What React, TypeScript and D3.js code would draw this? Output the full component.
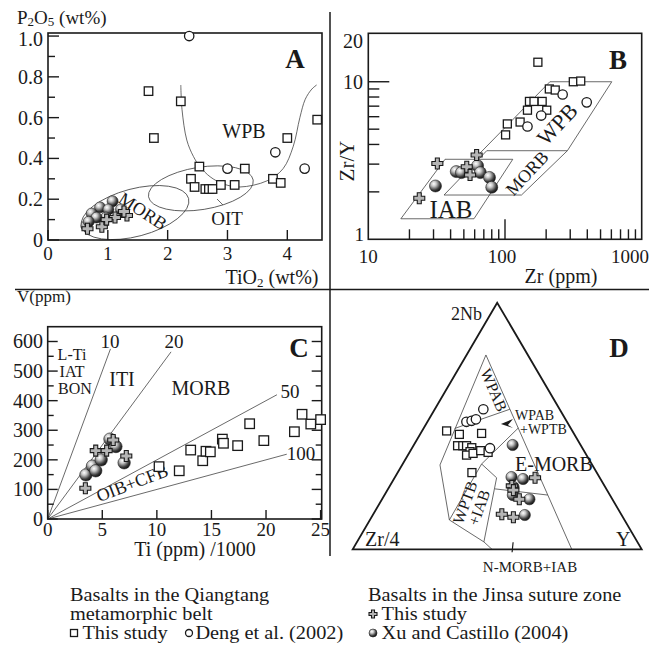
import React from 'react'
import * as d3 from 'd3'

type P = [number, number]
type T = [number, number, number]

// ---------- panel A : TiO2 vs P2O5 (wt%)
const aQiangtang: P[] = [[1.68, 0.73], [2.22, 0.68], [1.77, 0.5], [2.53, 0.36], [3.29, 0.35], [2.39, 0.3], [2.45, 0.26], [2.63, 0.25], [2.69, 0.25], [2.75, 0.25], [2.89, 0.27], [3.12, 0.27], [3.76, 0.3], [3.89, 0.28], [4.0, 0.5], [4.5, 0.59]]
const aDeng: P[] = [[2.36, 1.0], [3.0, 0.35], [3.8, 0.43], [4.29, 0.35]]
const aXuCastillo: P[] = [[1.08, 0.19], [0.87, 0.16], [1.01, 0.15], [0.73, 0.13], [1.22, 0.15], [0.97, 0.11], [0.64, 0.07], [0.81, 0.11], [0.68, 0.09]]
const aJinsa: P[] = [[1.32, 0.12], [1.12, 0.11], [0.9, 0.065], [0.66, 0.055], [1.27, 0.14], [0.98, 0.1]]
const aWpbLine: P[] = [[2.22, 0.76], [2.24, 0.64], [2.32, 0.49], [2.43, 0.41], [2.54, 0.36], [2.71, 0.31], [2.93, 0.275], [3.21, 0.26], [3.66, 0.29], [3.93, 0.35], [4.1, 0.46], [4.21, 0.6], [4.3, 0.69], [4.41, 0.74], [4.49, 0.76]]
const aMorbAxis: P[] = [[0.56, 0.065], [2.35, 0.204]]
const aOitAxis: P[] = [[1.68, 0.212], [3.43, 0.294]]
const aYTicks = [0, 0.2, 0.4, 0.6, 0.8, 1.0]
const aYLabels = ['0', '0.2', '0.4', '0.6', '0.8', '1.0']
const aYMinor = [0.1, 0.3, 0.5, 0.7, 0.9]
const aXTicks = [0, 1, 2, 3, 4]

// ---------- panel B : Zr vs Zr/Y
const bQiangtang: P[] = [[174, 13.3], [316, 10], [358, 10.1], [211, 9.0], [233, 8.86], [151, 7.5], [163, 7.5], [187, 7.5], [146, 6.6], [202, 6.6], [104, 5.4], [129, 5.55], [101, 4.6]]
const bDeng: P[] = [[264, 8.3], [396, 7.4], [184, 6.1], [146, 5.2]]
const bXuCastillo: P[] = [[31, 2.18], [44, 2.69], [48, 2.65], [63, 2.93], [66, 2.65], [77, 2.47], [80, 2.14]]
const bJinsa: P[] = [[32, 3.03], [62, 3.43], [23.6, 1.82], [52.5, 2.89], [55.5, 2.56]]
const bIab: P[] = [[17.3, 1.35], [59.3, 1.35], [114, 3.22], [36.4, 3.22]]
const bMorb: P[] = [[35.8, 1.91], [132, 1.91], [286, 3.65], [73.5, 3.65]]
const bWpb: P[] = [[59.3, 3.22], [213, 10], [604, 10], [286, 3.65]]
const bYMinor = [2, 3, 4, 5, 6, 7, 8, 9]
const bXMinor = [20, 30, 40, 50, 60, 70, 80, 90, 200, 300, 400, 500, 600, 700, 800, 900]

// ---------- panel C : Ti/1000 vs V
const cQiangtang: P[] = [[10.2, 177], [12.05, 163], [13.1, 233], [14.2, 197], [14.5, 229], [14.9, 227], [16.0, 270], [16.1, 256], [17.4, 248], [18.5, 322], [19.8, 265], [22.6, 295], [23.3, 354], [24.1, 321], [25.0, 336]]
const cXuCastillo: P[] = [[3.5, 149], [4.1, 179], [4.4, 163], [4.9, 200], [5.7, 270], [6.25, 245], [7.0, 190]]
const cJinsa: P[] = [[3.45, 104], [4.4, 231], [5.4, 231], [6.0, 267], [7.2, 213]]
const cRatios = [10, 20, 50, 100]
const cRatioEnds = [5.75, 11.3, 21.0, 21.9]
const cYTicks = [0, 100, 200, 300, 400, 500, 600]
const cYMinor = [50, 150, 250, 350, 450, 550]
const cXTicks = [0, 5, 10, 15, 20, 25]

// ---------- panel D : 2Nb - Zr/4 - Y (percent)
const dQiangtang: T[] = [[48, 43.5, 8.5], [46.6, 39.8, 13.6], [47, 31.9, 21.1], [42, 42.7, 15.3], [42, 40.9, 17.1], [42, 39.6, 18.4], [41.2, 38.2, 20.6], [39.6, 39.6, 20.8], [38.2, 41.5, 20.3], [38.9, 38.9, 22.2], [40, 35.7, 24.3], [39.3, 33.5, 27.2], [31.1, 43.2, 25.7]]
const dDeng: T[] = [[56.8, 26.4, 16.8], [51.7, 34.8, 13.5], [52.1, 32.8, 15.1], [52.7, 31.0, 16.3], [41, 32, 27]]
const dXuCastillo: T[] = [[42.3, 23.5, 34.2], [29.3, 30.4, 40.3], [28.5, 26.8, 44.7], [25.3, 31.7, 43], [22, 33.6, 44.4], [20.3, 28.7, 51], [13.9, 33.5, 52.6]]
const dJinsa: T[] = [[29, 22.4, 48.6], [25.7, 32.1, 42.2], [24, 32.4, 43.6], [20.3, 32.2, 47.5], [14.2, 41.3, 44.5], [13, 37.9, 49.1]]
const dOuter: T[] = [[78.8, 14.5, 6.7], [34.2, 52.7, 13.1], [11.9, 60.6, 27.5], [3, 53.1, 43.9], [0, 51.8, 48.2]]
const dRight: T[] = [[78.8, 14.5, 6.7], [0, 24.2, 75.8]]
const dWpabLow: T[] = [[49.5, 40.6, 10.9], [56.8, 17.2, 26]]
const dEmorbTop: T[] = [[34.6, 38.1, 27.3], [49.2, 18.1, 32.7]]
const dWptb: T[] = [[11.9, 60.6, 27.5], [34.6, 38.1, 27.3], [29, 35.7, 35.3], [3, 53.1, 43.9]]
const dEmorbLow: T[] = [[24.5, 38.5, 37], [22, 21.5, 56.5]]
const dArrowTip: T = [50.8, 23.3, 25.9]
const dBaseTick: T = [0, 44.5, 55.5]

const FONT = "'Liberation Serif', 'Times New Roman', serif"
const INK = '#1a1a1a'

// scales
const xA = d3.scaleLinear().domain([0, 4.58]).range([48, 322])
const yA = d3.scaleLinear().domain([0, 1.015]).range([240, 33])
const xB = d3.scaleLog().domain([10, 1000]).range([368.3, 641.7])
const yB = d3.scaleLog().domain([1, 20.3]).range([239.3, 33.3])
const xC = d3.scaleLinear().domain([0, 25.1]).range([47.7, 321.7])
const yC = d3.scaleLinear().domain([0, 650]).range([519, 326.7])
const tx = d3.scaleLinear().domain([0, 1]).range([352.7, 641.7])
const ty = d3.scaleLinear().domain([0, 1]).range([549.3, 302.7])

const tern = (p: T): P => {
	const s = p[0] + p[1] + p[2]
	const a = p[0] / s
	const c = p[2] / s
	return [tx(c + a / 2), ty(a)]
}

const Square = ({ x, y, s = 9 }: any) => (
	<rect x={x - s / 2} y={y - s / 2} width={s} height={s} fill='white' stroke={INK} strokeWidth={1.3} />
)
const Ring = ({ x, y, r = 4.7 }: any) => <circle cx={x} cy={y} r={r} fill='white' stroke={INK} strokeWidth={1.3} />
const Ball = ({ x, y, r = 5.8 }: any) => (
	<circle cx={x} cy={y} r={r} fill='url(#ball)' stroke='#222' strokeWidth={0.6} />
)
const Cross = ({ x, y, h = 5.5, w = 2 }: any) => {
	const d = `M${x - w},${y - h}H${x + w}V${y - w}H${x + h}V${y + w}H${x + w}V${y + h}H${x - w}V${y + w}H${x - h}V${y - w}H${x - w}Z`
	return <path d={d} fill='#b5b5b5' stroke={INK} strokeWidth={1.1} />
}

const Ellipse = ({ ends, ratio }: { ends: P[]; ratio: number }) => {
	const p0 = [xA(ends[0][0]), yA(ends[0][1])]
	const p1 = [xA(ends[1][0]), yA(ends[1][1])]
	const cx = (p0[0] + p1[0]) / 2
	const cy = (p0[1] + p1[1]) / 2
	const rx = Math.hypot(p1[0] - p0[0], p1[1] - p0[1]) / 2
	const ang = (Math.atan2(p1[1] - p0[1], p1[0] - p0[0]) * 180) / Math.PI
	return (
		<ellipse cx={cx} cy={cy} rx={rx} ry={rx * ratio} transform={`rotate(${ang} ${cx} ${cy})`}
			fill='none' stroke='#444' strokeWidth={0.8} />
	)
}

const App = () => {
	const wpbPath = d3.line<P>().x(d => xA(d[0])).y(d => yA(d[1])).curve(d3.curveCatmullRom)(aWpbLine) || ''
	const polyB = (pts: P[], closed: boolean) =>
		d3.line<P>().x(d => xB(d[0])).y(d => yB(d[1]))(pts) + (closed ? 'Z' : '')
	const polyD = (pts: T[]) => d3.line<P>()(pts.map(tern)) || ''
	const tri = [tern([100, 0, 0]), tern([0, 100, 0]), tern([0, 0, 100])]
	const arrow = tern(dArrowTip)
	const baseTick = tern(dBaseTick)
	const field = { fill: 'none', stroke: '#444', strokeWidth: 0.8 }
	const frame = { fill: 'none', stroke: INK, strokeWidth: 1.6 }
	const tick = { stroke: INK, strokeWidth: 1.4 }

	return (
		<svg width={662} height={649} style={{ position: 'absolute', left: 0, top: 0, background: 'white' }}
			fontFamily={FONT} fill={INK}>
			<defs>
				<radialGradient id='ball' cx='0.36' cy='0.32' r='0.7'>
					<stop offset='0' stopColor='#ffffff' />
					<stop offset='0.3' stopColor='#c8c8c8' />
					<stop offset='0.75' stopColor='#3c3c3c' />
					<stop offset='1' stopColor='#111' />
				</radialGradient>
			</defs>

			{/* separators */}
			<line x1={330} x2={330} y1={12} y2={556} stroke={INK} strokeWidth={1.5} />
			<line x1={15} x2={649} y1={289.5} y2={289.5} stroke={INK} strokeWidth={1.5} />

			{/* ================= A ================= */}
			<g>
				<Ellipse ends={aMorbAxis} ratio={0.43} />
				<Ellipse ends={aOitAxis} ratio={0.4} />
				<path d={wpbPath} {...field} />
				<line x1={217} y1={199} x2={223} y2={205} stroke='#444' strokeWidth={0.8} />
				<rect x={xA(0)} y={yA(1.015)} width={xA(4.58) - xA(0)} height={yA(0) - yA(1.015)} {...frame} />
				{aYTicks.map(v => <line key={'ay' + v} x1={xA(0)} x2={xA(0) + 11} y1={yA(v)} y2={yA(v)} {...tick} />)}
				{aYMinor.map(v => <line key={'aym' + v} x1={xA(0)} x2={xA(0) + 7} y1={yA(v)} y2={yA(v)} {...tick} />)}
				{aXTicks.map(v => <line key={'ax' + v} x1={xA(v)} x2={xA(v)} y1={yA(0)} y2={yA(0) - 10} {...tick} />)}
				{aYTicks.map((v, i) => (
					<text key={'ayl' + v} x={43} y={yA(v) + (v === 1 ? 3 : 0)} dy='0.35em' textAnchor='end' fontSize={20}>{aYLabels[i]}</text>
				))}
				{aXTicks.map(v => (
					<text key={'axl' + v} x={xA(v)} y={260} textAnchor='middle' fontSize={19}>{v}</text>
				))}
				<text x={17} y={24} fontSize={19}>
					P<tspan fontSize={13} dy={2}>2</tspan><tspan dy={-2}>O</tspan><tspan fontSize={13} dy={2}>5</tspan><tspan dy={-2}> (wt%)</tspan>
				</text>
				<text x={272} y={284} textAnchor='middle' fontSize={20}>
					TiO<tspan fontSize={13} dy={3}>2</tspan><tspan dy={-3}> (wt%)</tspan>
				</text>
				<text x={295} y={68} textAnchor='middle' fontSize={27} fontWeight='bold'>A</text>
				<text x={244} y={138} textAnchor='middle' fontSize={20}>WPB</text>
				<text x={227} y={225} textAnchor='middle' fontSize={19}>OIT</text>
				<text transform={`translate(143,211) rotate(33)`} textAnchor='middle' dy='0.35em' fontSize={18}>MORB</text>
				{aQiangtang.map((d, i) => <Square key={'aq' + i} x={xA(d[0])} y={yA(d[1])} s={8.5} />)}
				{aDeng.map((d, i) => <Ring key={'ad' + i} x={xA(d[0])} y={yA(d[1])} />)}
				{aXuCastillo.map((d, i) => <Ball key={'ax' + i} x={xA(d[0])} y={yA(d[1])} r={5.5} />)}
				{aJinsa.map((d, i) => <Cross key={'aj' + i} x={xA(d[0])} y={yA(d[1])} />)}
			</g>

			{/* ================= B ================= */}
			<g>
				<path d={polyB(bIab, true)} {...field} />
				<path d={polyB(bMorb, true)} {...field} />
				<path d={polyB(bWpb, false)} {...field} />
				<rect x={xB(10)} y={yB(20.3)} width={xB(1000) - xB(10)} height={yB(1) - yB(20.3)} {...frame} />
				{bYMinor.map(v => <line key={'by' + v} x1={xB(10)} x2={xB(10) + 11} y1={yB(v)} y2={yB(v)} {...tick} />)}
				<line x1={xB(10)} x2={xB(10) + 21} y1={yB(10)} y2={yB(10)} {...tick} />
				{bXMinor.map(v => <line key={'bx' + v} x1={xB(v)} x2={xB(v)} y1={yB(1)} y2={yB(1) - 10} {...tick} />)}
				<line x1={xB(100)} x2={xB(100)} y1={yB(1)} y2={yB(1) - 20} {...tick} />
				<text x={363} y={yB(20) + 7} dy='0.35em' textAnchor='end' fontSize={20}>20</text>
				<text x={363} y={yB(10)} dy='0.35em' textAnchor='end' fontSize={20}>10</text>
				<text x={364} y={yB(1) - 5} dy='0.35em' textAnchor='end' fontSize={19}>1</text>
				<text x={xB(10)} y={263} textAnchor='middle' fontSize={19}>10</text>
				<text x={xB(100) - 3} y={263} textAnchor='middle' fontSize={19}>100</text>
				<text x={630} y={263} textAnchor='middle' fontSize={19}>1000</text>
				<text x={561} y={283} textAnchor='middle' fontSize={20}>Zr (ppm)</text>
				<text transform='translate(347,161) rotate(-90)' textAnchor='middle' dy='0.35em' fontSize={21}>Zr/Y</text>
				<text x={618} y={69} textAnchor='middle' fontSize={27} fontWeight='bold'>B</text>
				<text x={451} y={218} textAnchor='middle' fontSize={25}>IAB</text>
				<text transform='translate(527,173) rotate(-47)' textAnchor='middle' dy='0.35em' fontSize={18}>MORB</text>
				<text transform='translate(557,124) rotate(-47)' textAnchor='middle' dy='0.35em' fontSize={22}>WPB</text>
				{bQiangtang.map((d, i) => <Square key={'bq' + i} x={xB(d[0])} y={yB(d[1])} s={8} />)}
				{bDeng.map((d, i) => <Ring key={'bd' + i} x={xB(d[0])} y={yB(d[1])} />)}
				{bXuCastillo.map((d, i) => <Ball key={'bx' + i} x={xB(d[0])} y={yB(d[1])} r={6} />)}
				{bJinsa.map((d, i) => <Cross key={'bj' + i} x={xB(d[0])} y={yB(d[1])} />)}
			</g>

			{/* ================= C ================= */}
			<g>
				{cRatios.map((r, i) => (
					<line key={'cr' + r} x1={xC(0)} y1={yC(0)} x2={xC(cRatioEnds[i])} y2={yC((cRatioEnds[i] * 1000) / r)}
						stroke='#444' strokeWidth={0.8} />
				))}
				<rect x={xC(0)} y={yC(650)} width={xC(25.1) - xC(0)} height={yC(0) - yC(650)} {...frame} />
				{cYTicks.map(v => <line key={'cy' + v} x1={xC(0)} x2={xC(0) + 10} y1={yC(v)} y2={yC(v)} {...tick} />)}
				{cYMinor.map(v => <line key={'cym' + v} x1={xC(0)} x2={xC(0) + 6} y1={yC(v)} y2={yC(v)} {...tick} />)}
				{cYTicks.map(v => <line key={'cyr' + v} x1={xC(25.1)} x2={xC(25.1) - 10} y1={yC(v)} y2={yC(v)} {...tick} />)}
				{cYMinor.map(v => <line key={'cymr' + v} x1={xC(25.1)} x2={xC(25.1) - 6} y1={yC(v)} y2={yC(v)} {...tick} />)}
				{cXTicks.map(v => <line key={'cx' + v} x1={xC(v)} x2={xC(v)} y1={yC(0)} y2={yC(0) - 9} {...tick} />)}
				{cYTicks.map(v => (
					<text key={'cyl' + v} x={43} y={yC(v)} dy='0.35em' textAnchor='end' fontSize={20}>{v}</text>
				))}
				{cXTicks.map(v => (
					<text key={'cxl' + v} x={xC(v)} y={536} textAnchor='middle' fontSize={19}>{v}</text>
				))}
				<text x={17} y={302} fontSize={17}>V(ppm)</text>
				<text x={195} y={556} textAnchor='middle' fontSize={20}>Ti (ppm) /1000</text>
				<text x={299} y={357} textAnchor='middle' fontSize={27} fontWeight='bold'>C</text>
				<text x={110} y={348} textAnchor='middle' fontSize={19}>10</text>
				<text x={174} y={348} textAnchor='middle' fontSize={19}>20</text>
				<text x={290} y={398} textAnchor='middle' fontSize={19}>50</text>
				<text x={301} y={460} textAnchor='middle' fontSize={19}>100</text>
				<text x={72} y={360} textAnchor='middle' fontSize={16}>L-Ti</text>
				<text x={72} y={377} textAnchor='middle' fontSize={16}>IAT</text>
				<text x={75} y={394} textAnchor='middle' fontSize={16}>BON</text>
				<text x={122} y={386} textAnchor='middle' fontSize={20}>ITI</text>
				<text x={201} y={395} textAnchor='middle' fontSize={20}>MORB</text>
				<text transform='translate(132,483) rotate(-21)' textAnchor='middle' dy='0.35em' fontSize={18}>OIB+CFB</text>
				{cQiangtang.map((d, i) => <Square key={'cq' + i} x={xC(d[0])} y={yC(d[1])} s={9.5} />)}
				{cXuCastillo.map((d, i) => <Ball key={'cx' + i} x={xC(d[0])} y={yC(d[1])} r={6.2} />)}
				{cJinsa.map((d, i) => <Cross key={'cj' + i} x={xC(d[0])} y={yC(d[1])} />)}
			</g>

			{/* ================= D ================= */}
			<g>
				<path d={polyD(dOuter)} {...field} />
				<path d={polyD(dRight)} {...field} />
				<path d={polyD(dWpabLow)} {...field} />
				<path d={polyD(dEmorbTop)} {...field} />
				<path d={polyD(dWptb)} {...field} />
				<path d={polyD(dEmorbLow)} {...field} />
				<path d={`M${tri[0][0]},${tri[0][1]}L${tri[1][0]},${tri[1][1]}L${tri[2][0]},${tri[2][1]}Z`}
					fill='none' stroke={INK} strokeWidth={1.8} strokeLinejoin='miter' />
				<line x1={baseTick[0]} x2={baseTick[0] - 1} y1={baseTick[1] - 7} y2={baseTick[1] + 3} stroke={INK} strokeWidth={1.2} />
				<path d={`M${arrow[0]},${arrow[1]}L${arrow[0] + 12},${arrow[1] - 5}L${arrow[0] + 7},${arrow[1] + 1}L${arrow[0] + 12},${arrow[1] + 4}Z`} fill={INK} />
				<text x={482} y={320} textAnchor='end' fontSize={18}>2Nb</text>
				<text x={365} y={546} fontSize={20}>Zr/4</text>
				<text x={616} y={546} fontSize={20}>Y</text>
				<text x={619} y={357} textAnchor='middle' fontSize={27} fontWeight='bold'>D</text>
				<text transform='translate(494,390) rotate(67)' textAnchor='middle' dy='0.35em' fontSize={16}>WPAB</text>
				<text x={515} y={420} fontSize={14}>WPAB</text>
				<text x={520} y={434} fontSize={14}>+WPTB</text>
				<text x={515} y={471} fontSize={20}>E-MORB</text>
				<text transform='translate(472,505) rotate(-70)' textAnchor='middle' fontSize={16}>
					<tspan x={0} y={-2}>WPTB</tspan>
					<tspan x={0} y={13}>+IAB</tspan>
				</text>
				<text x={530} y={572} textAnchor='middle' fontSize={15}>N-MORB+IAB</text>
				{dQiangtang.map((d, i) => { const p = tern(d); return <Square key={'dq' + i} x={p[0]} y={p[1]} s={8} /> })}
				{dDeng.map((d, i) => { const p = tern(d); return <Ring key={'dd' + i} x={p[0]} y={p[1]} /> })}
				{dXuCastillo.map((d, i) => { const p = tern(d); return <Ball key={'dx' + i} x={p[0]} y={p[1]} r={5.6} /> })}
				{dJinsa.map((d, i) => { const p = tern(d); return <Cross key={'dj' + i} x={p[0]} y={p[1]} /> })}
			</g>

			{/* ================= legend ================= */}
			<g fontSize={18}>
				<g transform='translate(70,0) scale(1.13,1)'>
					<text x={0} y={601}>Basalts in the Qiangtang</text>
					<text x={0} y={620}>metamorphic belt</text>
					<text x={11} y={639}>This study</text>
					<text x={111} y={639}>Deng et al. (2002)</text>
				</g>
				<Square x={74} y={633} s={7} />
				<Ring x={189} y={633} r={3.5} />
				<g transform='translate(368,0) scale(1.13,1)'>
					<text x={0} y={601}>Basalts in the Jinsa suture zone</text>
					<text x={12} y={620}>This study</text>
					<text x={12} y={639}>Xu and Castillo (2004)</text>
				</g>
				<Cross x={373} y={614} h={4} w={1.5} />
				<Ball x={373} y={633} r={4} />
			</g>
		</svg>
	)
}

export default App
